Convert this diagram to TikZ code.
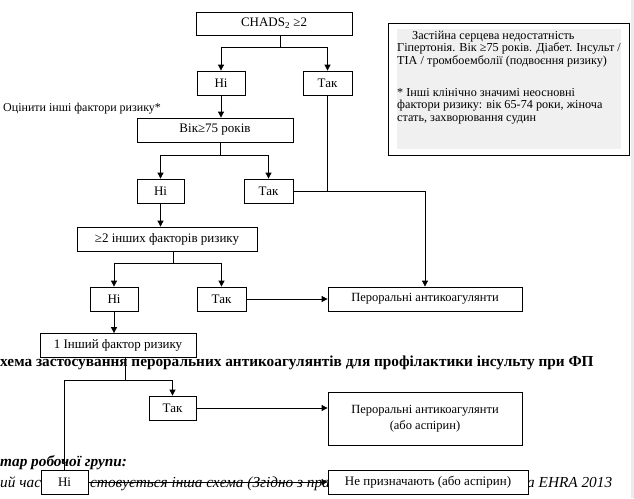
\documentclass[tikz,border=0pt]{standalone}
\usepackage{fontspec}
\setmainfont{Liberation Serif}
\usetikzlibrary{arrows.meta}
\definecolor{legendgray}{RGB}{240,240,240}
\definecolor{stripgray}{RGB}{236,236,236}
\begin{document}
\begin{tikzpicture}[x=1pt,y=-1pt,
  box/.style={draw, line width=0.8pt, fill=white, inner sep=0pt, align=center,
              font=\fontsize{13}{15}\selectfont},
  arr/.style={line width=0.8pt, -{Triangle[length=6pt,width=6pt]}},
  ln/.style={line width=0.8pt},
  bgtext/.style={anchor=base west, inner sep=0pt},
  legtext/.style={anchor=base west, inner sep=0pt, font=\fontsize{12.2}{14}\selectfont}]
\useasboundingbox (0,0) rectangle (634,498);
\fill[white] (0,0) rectangle (634,498);
\fill[stripgray] (631,0) rectangle (634,498);

% background document text
\node[bgtext, font=\fontsize{15.3}{17}\selectfont\bfseries] (title) at (0,366.5) {хема застосування пероральних антикоагулянтів для профілактики інсульту при ФП};
\node[bgtext, font=\fontsize{15.3}{17}\selectfont\bfseries\itshape] (coment) at (0,466) {тар робочої групи:};
\node[bgtext, font=\fontsize{15.3}{17}\selectfont\itshape] (t1) at (0,487) {ий час};
\node[bgtext, font=\fontsize{15.3}{17}\selectfont\itshape] (t2) at (90,487) {стовується інша схема (Згідно з прав};
\node[bgtext, font=\fontsize{15.3}{17}\selectfont\itshape] (t3) at (527,487) {а EHRA 2013};

% side note
\node[bgtext, font=\fontsize{12}{14}\selectfont] (note) at (3,111) {Оцінити інші фактори ризику*};

% legend
\draw[line width=0.8pt] (388,23) rectangle (629,155);
\fill[legendgray] (397,29) rectangle (621,149);
\node[legtext] (l1) at (412,39) {Застійна серцева недостатність};
\node[legtext] (l2) at (397,51.5) {Гіпертонія. Вік ≥75 років. Діабет. Інсульт /};
\node[legtext] (l3) at (397,64) {TIA / тромбоемболії (подвоєння ризику)};
\node[legtext] (l4) at (397,96) {* Інші клінічно значимі неосновні};
\node[legtext] (l5) at (397,108.5) {фактори ризику: вік 65-74 роки, жіноча};
\node[legtext] (l6) at (397,121) {стать, захворювання судин};

% boxes
\node[box, minimum width=156pt, minimum height=23pt] (chads) at (274,23.5) {CHADS\textsubscript{2} ≥2};
\node[box, minimum width=48pt, minimum height=24pt] (ni1) at (221,83) {Ні};
\node[box, minimum width=49pt, minimum height=24pt] (tak1) at (327.5,83) {Так};
\node[box, minimum width=156pt, minimum height=24pt] (vik) at (215,130) {Вік≥75 років};
\node[box, minimum width=47pt, minimum height=24pt] (ni2) at (160.5,191) {Ні};
\node[box, minimum width=49pt, minimum height=24pt] (tak2) at (268.5,191) {Так};
\node[box, minimum width=180pt, minimum height=24pt] (ge2) at (167,239) {≥2 інших факторів ризику};
\node[box, minimum width=48pt, minimum height=24pt] (ni3) at (114,299) {Ні};
\node[box, minimum width=49pt, minimum height=24pt] (tak3) at (221.5,299) {Так};
\node[box, minimum width=194pt, minimum height=24pt, font=\fontsize{12.5}{14}\selectfont] (per1) at (425,299) {Пероральні антикоагулянти};
\node[box, minimum width=156pt, minimum height=24pt, fill=none] (insh) at (118,345.5) {1 Інший фактор ризику};
\node[box, minimum width=47pt, minimum height=24pt] (tak4) at (172.5,408) {Так};
\node[box, minimum width=194pt, minimum height=53pt, font=\fontsize{12.5}{16}\selectfont] (per2) at (425,418.5) {Пероральні антикоагулянти\\(або аспірин)};
\node[box, minimum width=47pt, minimum height=24pt] (ni4) at (64.5,482) {Ні};
\node[box, minimum width=200pt, minimum height=24pt] (nep) at (428,482) {Не призначають (або аспірин)};

% connectors
\coordinate (j1) at (280,47);
\draw[ln] (j1 |- chads.south) -- (j1);
\draw[arr] (j1) -| (ni1.north);
\draw[arr] (j1) -| (tak1.north);
\draw[arr] (ni1.south) -- (ni1.south |- vik.north);

\coordinate (j2) at (220,155);
\draw[ln] (j2 |- vik.south) -- (j2);
\draw[arr] (j2) -| (ni2.north);
\draw[arr] (j2) -| (tak2.north);

\draw[ln] (tak1.south) -- (tak1.south |- tak2.east);
\draw[ln] (tak2.east) -- (tak2.east -| per1.north);
\draw[arr] (tak2.east -| per1.north) -- (per1.north);

\draw[arr] (ni2.south) -- (ni2.south |- ge2.north);
\coordinate (j3) at (173,263);
\draw[ln] (j3 |- ge2.south) -- (j3);
\draw[arr] (j3) -| (ni3.north);
\draw[arr] (j3) -| (tak3.north);
\draw[arr] (tak3.east) -- (per1.west);

\draw[arr] (ni3.south) -- (ni3.south |- insh.north);
\coordinate (j4) at (125,380);
\draw[ln] (j4 |- insh.south) -- (j4);
\draw[arr] (j4) -| (tak4.north);
\draw[ln] (j4) -| (ni4.north);
\draw[arr] (tak4.east) -- (tak4.east -| per2.west);
\draw[arr] (ni4.east) -- (nep.west);
\end{tikzpicture}
\end{document}
